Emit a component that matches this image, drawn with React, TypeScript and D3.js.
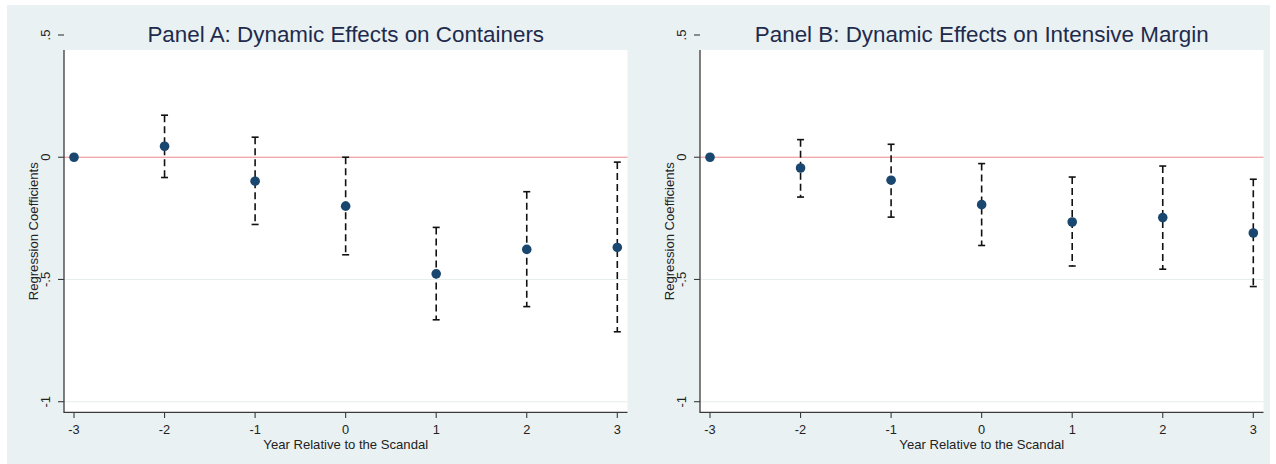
import React from "react";
import * as d3 from "d3";

const years = [-3, -2, -1, 0, 1, 2, 3];
const yTickValues = [0.5, 0, -0.5, -1];
const yTickLabels = [".5", "0", "-.5", "-1"];
const xTickLabels = ["-3", "-2", "-1", "0", "1", "2", "3"];

const coefA = [0, 0.045, -0.098, -0.2, -0.477, -0.377, -0.369];
const upperA = [null, 0.172, 0.082, 0.0, -0.287, -0.141, -0.02];
const lowerA = [null, -0.083, -0.275, -0.399, -0.665, -0.611, -0.714];

const coefB = [0, -0.044, -0.094, -0.194, -0.265, -0.247, -0.31];
const upperB = [null, 0.072, 0.053, -0.026, -0.081, -0.036, -0.09];
const lowerB = [null, -0.163, -0.245, -0.361, -0.445, -0.458, -0.529];

const titleA = "Panel A: Dynamic Effects on Containers";
const titleB = "Panel B: Dynamic Effects on Intensive Margin";
const xTitle = "Year Relative to the Scandal";
const yTitle = "Regression Coefficients";

const FONT = "'Liberation Sans', Arial, sans-serif";
const BG = "#eaf1f3";
const NAVY = "#1a476f";

type PanelProps = {
  ox: number;
  title: string;
  coef: number[];
  upper: (number | null)[];
  lower: (number | null)[];
};

function Panel({ ox, title, coef, upper, lower }: PanelProps) {
  const plotLeft = ox + 64;
  const plotRight = ox + 627.5;
  const x = d3.scaleLinear().domain([-3, 3]).range([ox + 74, ox + 617.3]);
  const y = d3.scaleLinear().domain([-1, 0.5]).range([401.7, 35]);
  const yTop = y(0.4385);
  const yBottom = y(-1.044);
  const cx = (plotLeft + plotRight) / 2;
  const capW = 3.5;
  return (
    <g>
      <rect x={plotLeft} y={yTop} width={plotRight - plotLeft} height={yBottom - yTop} fill="#ffffff" />
      {yTickValues
        .filter((v) => v < 0)
        .map((v) => (
          <line key={"g" + v} x1={plotLeft} x2={plotRight} y1={y(v)} y2={y(v)} stroke="#e4eded" strokeWidth={1} />
        ))}
      <line x1={plotLeft} x2={plotRight} y1={y(0)} y2={y(0)} stroke="#f08a8a" strokeWidth={1} />
      <line x1={plotLeft} x2={plotLeft} y1={yTop} y2={yBottom + 0.6} stroke="#3a3a3a" strokeWidth={1.3} />
      <line x1={plotLeft} x2={plotRight} y1={yBottom} y2={yBottom} stroke="#3a3a3a" strokeWidth={1.3} />
      {yTickValues.map((v, i) => (
        <g key={"yt" + v}>
          <line x1={plotLeft - 6} x2={plotLeft} y1={y(v)} y2={y(v)} stroke="#3a3a3a" strokeWidth={1.1} />
          <text
            transform={`translate(${plotLeft - 14},${y(v)}) rotate(-90)`}
            textAnchor="middle"
            fontFamily={FONT}
            fontSize={13}
            fill="#222"
          >
            {yTickLabels[i]}
          </text>
        </g>
      ))}
      {years.map((v, i) => (
        <g key={"xt" + v}>
          <line x1={x(v)} x2={x(v)} y1={yBottom} y2={yBottom + 5.5} stroke="#3a3a3a" strokeWidth={1.1} />
          <text x={x(v)} y={yBottom + 21.5} textAnchor="middle" fontFamily={FONT} fontSize={12.8} fill="#222">
            {xTickLabels[i]}
          </text>
        </g>
      ))}
      <text x={cx} y={yBottom + 36.5} textAnchor="middle" fontFamily={FONT} fontSize={13.1} fill="#222">
        {xTitle}
      </text>
      <text
        transform={`translate(${ox + 37.5},${(yTop + yBottom) / 2}) rotate(-90)`}
        textAnchor="middle"
        fontFamily={FONT}
        fontSize={13.1}
        fill="#222"
      >
        {yTitle}
      </text>
      <text x={cx} y={42} textAnchor="middle" fontFamily={FONT} fontSize={22.4} fill="#1e2b4d">
        {title}
      </text>
      {years.map((v, i) => {
        const u = upper[i];
        const l = lower[i];
        if (u === null || l === null) return null;
        return (
          <g key={"e" + v}>
            <line
              x1={x(v)}
              x2={x(v)}
              y1={y(u)}
              y2={y(l)}
              stroke="#111"
              strokeWidth={1.6}
              strokeDasharray="7,4"
            />
            <line x1={x(v) - capW} x2={x(v) + capW} y1={y(u)} y2={y(u)} stroke="#111" strokeWidth={1.6} />
            <line x1={x(v) - capW} x2={x(v) + capW} y1={y(l)} y2={y(l)} stroke="#111" strokeWidth={1.6} />
          </g>
        );
      })}
      {years.map((v, i) => (
        <circle key={"p" + v} cx={x(v)} cy={y(coef[i])} r={4.8} fill={NAVY} />
      ))}
    </g>
  );
}

export default function App() {
  return (
    <svg
      width={1276}
      height={464}
      style={{ position: "absolute", left: 0, top: 0, background: "#ffffff" }}
    >
      <rect x={7} y={5} width={1263} height={459} fill={BG} />
      <Panel ox={0} title={titleA} coef={coefA} upper={upperA} lower={lowerA} />
      <Panel ox={636} title={titleB} coef={coefB} upper={upperB} lower={lowerB} />
    </svg>
  );
}
